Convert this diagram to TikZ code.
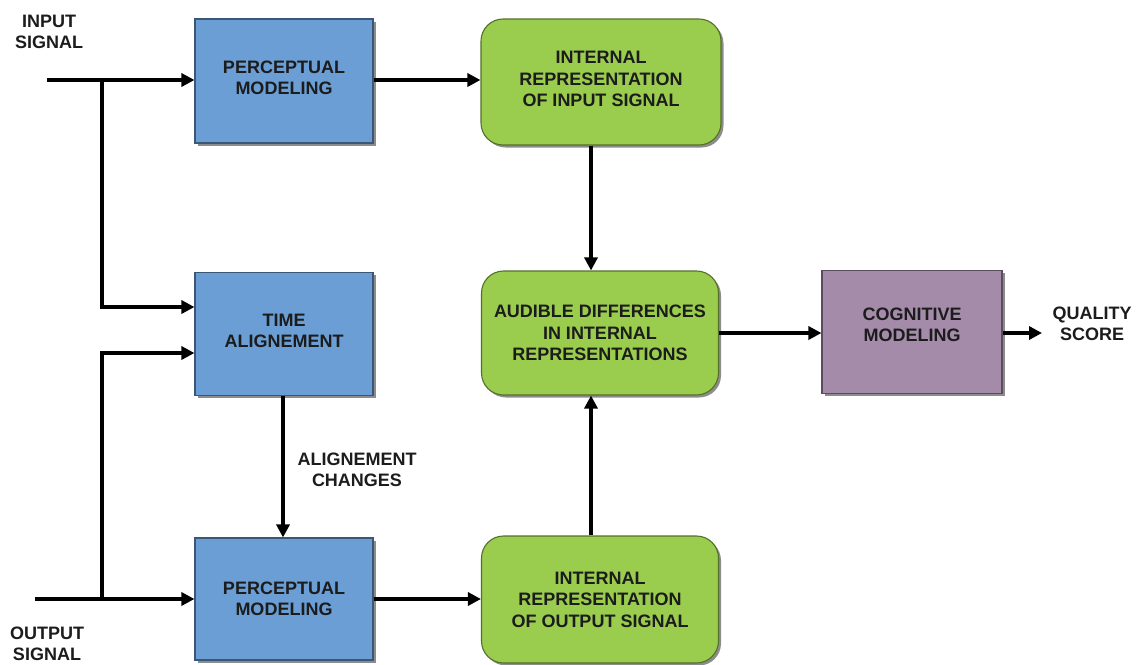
\documentclass[tikz,border=0pt]{standalone}
\usepackage{fontspec}
\setmainfont{Liberation Sans}
\usetikzlibrary{arrows.meta,shadows}
\definecolor{boxblue}{HTML}{6A9ED4}
\definecolor{boxgreen}{HTML}{9ACC4E}
\definecolor{boxpurple}{HTML}{A48BAA}
\definecolor{inktext}{HTML}{1C1C1C}
\tikzset{
  lbl/.style={font=\fontsize{18}{21.5}\selectfont\bfseries, text=inktext, align=center},
  block/.style={lbl, draw=#1!55!black, fill=#1, line width=1.1pt, inner sep=0pt,
    drop shadow={shadow xshift=2.5pt, shadow yshift=-2.5pt, fill=black!60, opacity=0.75}},
  sqbox/.style={block=#1, rectangle},
  rndbox/.style={block=#1, rectangle, rounded corners=22pt},
  arr/.style={line width=3.6pt, line cap=butt, -{Triangle[length=13pt,width=13pt]}},
}
\begin{document}
\begin{tikzpicture}[x=1pt,y=-1pt]
\useasboundingbox (0,0) rectangle (1139,664);

% blocks
\node[sqbox=boxblue, minimum width=178pt, minimum height=124pt] (pmi) at (284,81) {};
\node[lbl] (pmitxt) at ([yshift=3pt]pmi.center) {PERCEPTUAL\\MODELING};
\node[sqbox=boxblue, minimum width=178pt, minimum height=123pt] (ta) at (284,334) {};
\node[lbl] (tatxt) at ([yshift=3pt]ta.center) {TIME\\ALIGNEMENT};
\node[sqbox=boxblue, minimum width=178pt, minimum height=122pt] (pmo) at (284,599) {PERCEPTUAL\\MODELING};
\node[rndbox=boxgreen, minimum width=240pt, minimum height=126pt] (iri) at (601,82) {};
\node[lbl] (iritxt) at ([yshift=3pt]iri.center) {INTERNAL\\REPRESENTATION\\OF INPUT SIGNAL};
\node[rndbox=boxgreen, minimum width=237pt, minimum height=124pt] (ad) at (600,333) {AUDIBLE DIFFERENCES\\IN INTERNAL\\REPRESENTATIONS};
\node[rndbox=boxgreen, minimum width=237pt, minimum height=127pt] (iro) at (600,599.5) {INTERNAL\\REPRESENTATION\\OF OUTPUT SIGNAL};
\node[sqbox=boxpurple, minimum width=180pt, minimum height=123pt] (cm) at (912,332) {};
\node[lbl] (cmtxt) at ([yshift=7pt]cm.center) {COGNITIVE\\MODELING};

% free labels
\node[lbl] (insig) at (49,32) {INPUT\\SIGNAL};
\node[lbl] (outsig) at (47,644) {OUTPUT\\SIGNAL};
\node[lbl] (qs) at (1092,324) {QUALITY\\SCORE};
\node[lbl] (alc) at (357,470) {ALIGNEMENT\\CHANGES};

% signal entry points, branch points and column of the middle arrows
\coordinate (instart) at (47,80);
\coordinate (outstart) at (35,599);
\coordinate (jin) at (102,80);
\coordinate (jout) at (102,599);
\coordinate (midcol) at (591,0);
\coordinate (qend) at (1042,333);

% connectors
\draw[arr] (instart) -- (pmi.west |- instart);
\draw[arr] (jin) |- ([yshift=27pt]ta.west);
\draw[arr] (outstart) -- (pmo.west |- outstart);
\draw[arr] (jout) |- ([yshift=-19pt]ta.west);
\draw[arr] ([xshift=-1pt]ta.south) -- ([xshift=-1pt]pmo.north);
\draw[arr] (pmi.east |- instart) -- (iri.west |- instart);
\draw[arr] (pmo.east |- outstart) -- (iro.west |- outstart);
\draw[arr] (midcol |- iri.south) -- (midcol |- ad.north);
\draw[arr] (midcol |- iro.north) -- (midcol |- ad.south);
\draw[arr] (ad.east |- qend) -- (cm.west |- qend);
\draw[arr] (cm.east |- qend) -- (qend);
\end{tikzpicture}
\end{document}
